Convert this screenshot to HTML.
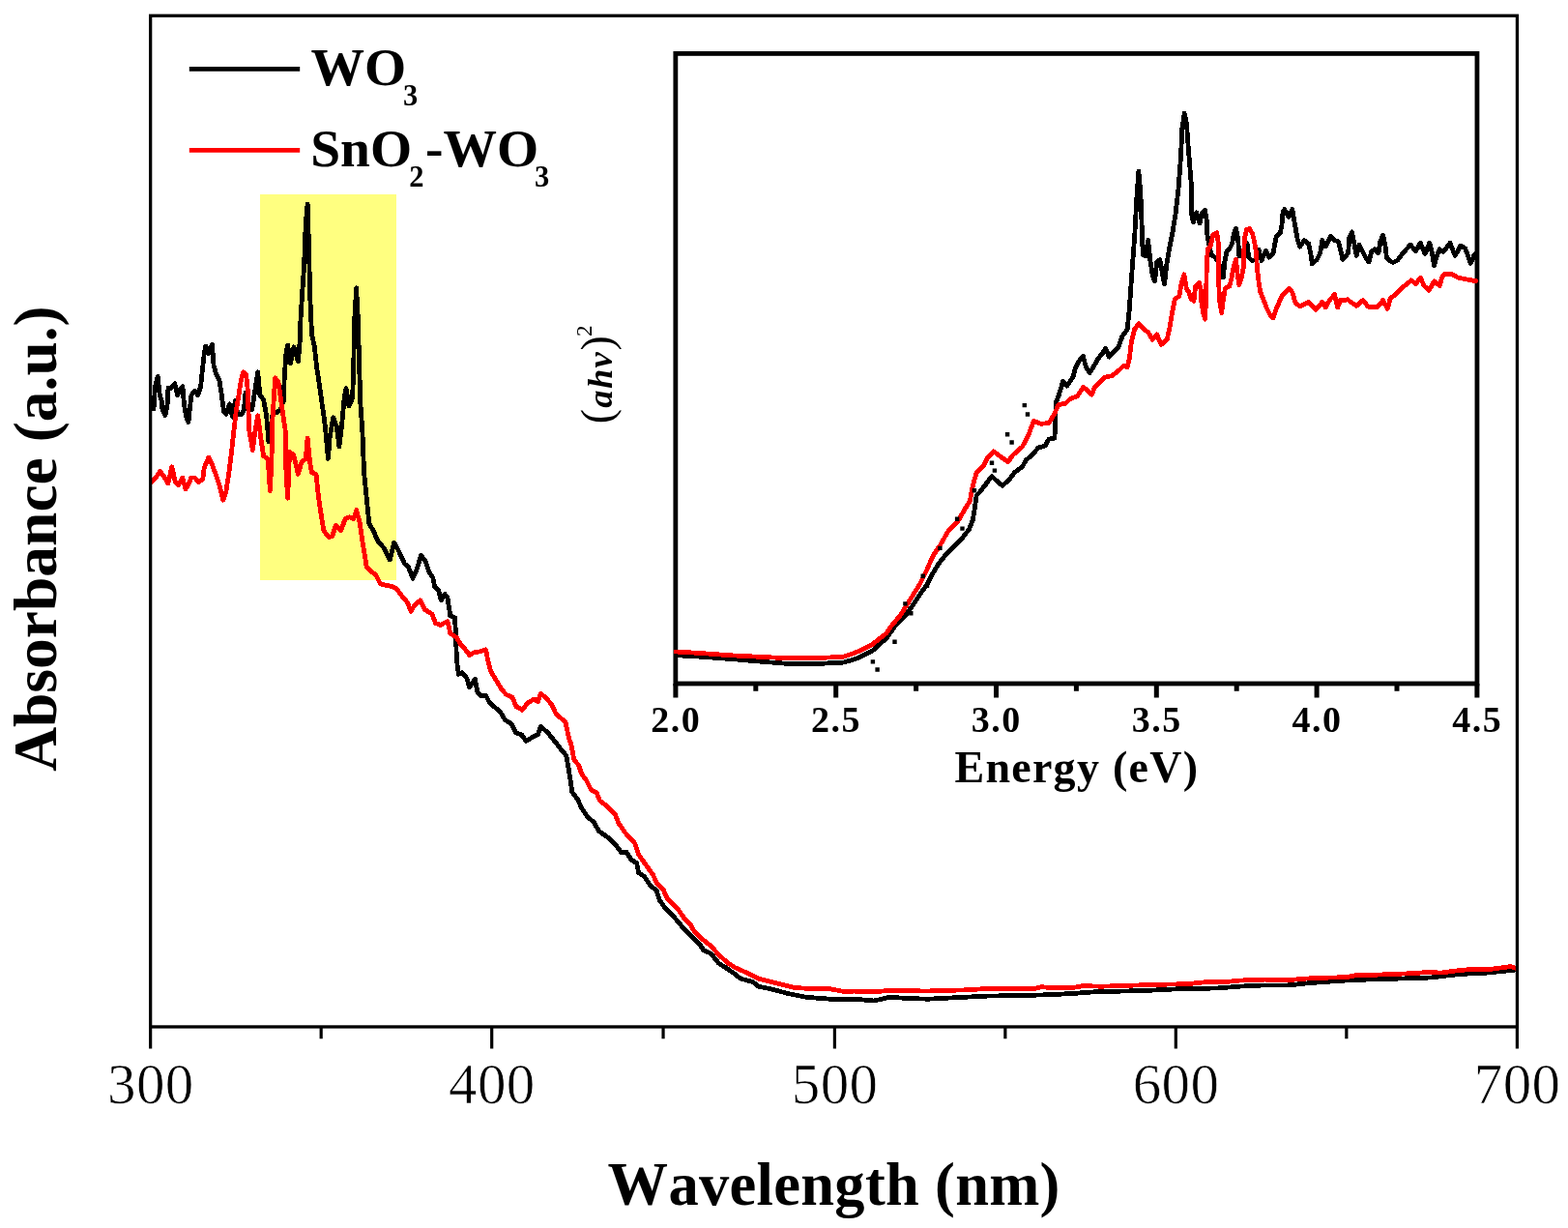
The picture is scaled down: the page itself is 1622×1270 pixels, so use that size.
<!DOCTYPE html><html><head><meta charset="utf-8"><style>html,body{margin:0;padding:0;background:#fff;overflow:hidden}svg{display:block;font-kerning:none}text{font-kerning:none}</style></head><body>
<svg width="1622" height="1270" viewBox="0 0 1622 1270">
<rect width="1622" height="1270" fill="#fff"/>
<rect x="269" y="201" width="141" height="399" fill="#FFFF80"/>
<polyline points="156.7,417.8 159.0,423.0 160.5,399.8 163.2,389.4 165.0,407.0 167.2,414.8 168.0,423.8 171.0,429.7 173.2,417.8 174.0,401.3 177.0,401.3 180.7,396.8 183.7,408.8 185.9,402.8 188.9,399.8 190.4,417.8 192.6,431.2 194.9,436.5 197.9,408.8 201.6,404.3 204.6,408.8 207.6,399.8 209.1,384.9 211.3,365.4 212.8,358.0 215.8,365.4 219.5,356.5 221.0,377.4 223.3,386.4 227.0,393.8 229.3,408.8 231.5,425.3 233.8,428.2 237.5,417.8 240.5,431.2 243.5,414.0 245.7,428.2 249.5,429.0 252.4,423.8 254.0,405.8 256.0,420.0 260.7,423.8 263.7,404.3 266.7,384.9 268.9,408.8 272.6,413.3 275.6,429.7 277.9,456.7 280.1,443.2 282.0,428.0 286.1,426.7 290.0,424.0 293.3,414.7 294.2,390.0 296.0,365.0 297.7,357.1 300.4,375.8 303.9,358.9 308.4,374.0 310.1,354.5 311.0,329.7 312.8,301.3 314.6,274.7 316.3,230.4 318.1,211.0 319.3,248.2 320.8,308.4 322.5,345.6 325.2,358.0 327.8,381.0 330.5,398.8 333.2,418.3 334.5,426.6 336.7,444.3 339.4,474.4 341.1,453.2 344.7,431.9 348.2,440.8 350.9,462.0 353.5,440.8 356.2,410.6 358.0,401.8 361.0,420.0 364.5,412.0 365.5,390.0 366.8,329.7 368.6,297.8 370.4,329.7 372.0,390.0 373.0,420.0 374.8,444.3 376.6,488.6 379.2,515.2 381.9,541.8 386.3,548.9 390.8,559.5 397.0,566.6 403.2,579.0 407.6,561.3 411.0,567.0 414.7,574.6 418.5,583.1 422.3,585.9 427.0,598.2 430.8,589.7 435.5,574.6 440.2,580.2 444.0,591.6 447.8,597.3 449.7,606.7 453.5,610.5 456.3,620.9 460.1,614.3 462.9,618.1 465.8,637.0 470.5,638.8 471.4,654.0 472.4,682.3 474.3,697.4 478.1,695.6 482.8,701.2 485.6,710.7 491.3,702.2 494.1,716.4 497.9,720.1 502.6,719.2 506.4,726.7 513.0,732.4 518.7,738.1 522.5,744.7 529.1,748.5 533.8,757.9 539.5,759.8 544.2,766.4 551.8,761.7 556.5,759.8 559.3,751.3 566.9,757.9 574.5,767.4 580.0,774.8 585.9,781.6 588.9,799.4 591.8,819.0 597.7,826.9 601.6,835.8 607.6,844.6 614.4,850.5 619.4,859.4 629.2,866.3 637.1,874.2 643.0,882.0 647.9,881.0 652.8,888.9 658.7,892.8 660.7,902.7 666.6,906.6 672.5,915.5 679.4,921.4 682.3,931.2 688.2,939.1 696.1,947.0 706.0,958.8 715.8,968.6 723.7,976.5 727.6,982.4 735.5,986.3 743.4,996.2 751.2,1001.1 760.0,1007.3 766.2,1012.2 778.5,1015.3 784.7,1020.2 797.0,1022.7 815.5,1027.6 834.0,1031.3 858.6,1033.2 883.3,1033.2 904.3,1035.0 920.3,1031.3 938.8,1032.5 960.0,1033.2 984.7,1031.9 1021.7,1030.1 1058.6,1029.5 1083.3,1028.8 1108.0,1027.6 1132.6,1025.8 1160.0,1025.1 1184.7,1024.5 1221.7,1022.6 1258.6,1022.0 1283.3,1020.1 1308.0,1018.9 1332.6,1018.9 1357.3,1016.4 1400.0,1013.5 1450.0,1012.0 1480.0,1011.0 1510.0,1007.5 1540.0,1006.0 1568.0,1003.0" fill="none" stroke="#000" stroke-width="4.8" stroke-linejoin="round" stroke-linecap="round" shape-rendering="crispEdges"/>
<polyline points="156.7,498.5 161.2,494.0 165.7,487.3 169.4,492.6 173.9,500.0 177.7,482.8 181.4,498.5 184.4,501.5 188.9,494.0 191.9,506.0 194.9,501.5 197.9,494.0 201.6,494.0 205.3,498.5 209.8,495.5 211.3,483.6 215.8,473.1 218.8,479.1 223.3,491.1 227.0,501.5 230.8,517.2 233.8,509.0 236.7,489.6 239.7,465.6 242.0,444.7 244.2,425.3 247.2,407.3 249.5,392.3 251.7,384.9 254.7,387.9 256.2,402.8 257.7,444.7 261.4,465.6 263.7,447.7 266.7,429.7 269.7,452.2 272.6,471.6 277.1,474.6 279.4,507.5 281.0,474.6 281.8,435.4 283.5,408.9 284.6,390.9 288.0,395.0 290.6,414.2 295.1,444.3 296.0,490.4 297.7,515.2 299.5,467.3 303.9,470.9 308.4,490.4 311.9,478.0 316.3,474.4 318.1,453.2 320.8,479.7 322.5,488.6 327.0,490.4 329.6,515.2 332.3,532.9 334.9,548.9 340.3,555.9 343.8,554.2 347.3,543.5 352.7,548.9 357.1,536.5 361.5,534.7 365.9,536.5 368.6,527.6 372.1,540.0 375.7,564.8 379.2,586.1 384.6,591.4 389.0,594.9 393.4,603.8 400.5,605.6 405.8,606.5 410.2,609.1 415.7,616.2 421.3,622.8 425.1,632.2 428.9,625.6 434.6,620.9 439.3,630.3 446.9,635.1 450.6,644.5 455.4,646.4 462.9,642.6 465.8,654.9 472.4,659.6 477.1,667.2 480.9,671.0 485.6,677.6 490.3,674.8 497.0,673.8 502.6,671.9 504.5,682.3 507.4,693.7 513.0,703.1 518.7,712.6 523.4,718.2 530.0,721.1 533.8,730.5 540.4,734.3 546.1,726.7 552.7,723.0 556.5,725.8 559.3,717.3 565.0,722.0 570.7,728.6 574.5,737.1 579.2,741.9 584.9,746.6 588.6,763.6 590.8,769.8 593.8,785.6 598.7,791.5 601.6,800.3 606.6,807.2 611.5,817.1 617.4,820.0 620.3,827.9 628.2,833.8 636.1,841.7 640.0,851.5 646.9,861.4 656.8,872.2 660.7,884.0 667.6,893.8 675.5,904.7 679.4,913.5 686.3,920.4 690.2,929.3 702.0,941.1 707.9,949.9 714.8,956.8 717.8,962.7 725.6,970.6 735.5,978.5 743.4,987.3 753.2,996.2 760.0,1000.5 772.3,1006.0 784.7,1012.2 797.0,1015.3 809.3,1018.4 821.7,1021.4 840.1,1022.7 858.6,1022.7 871.0,1025.1 883.3,1025.1 901.8,1025.8 920.3,1024.5 938.8,1024.5 957.3,1025.1 972.3,1024.5 997.0,1023.9 1024.1,1022.3 1071.0,1022.3 1077.1,1020.6 1089.5,1021.8 1108.0,1021.8 1120.3,1019.6 1138.8,1020.2 1160.0,1019.5 1197.0,1018.3 1227.8,1017.7 1246.3,1015.8 1271.0,1015.2 1283.3,1014.0 1308.0,1013.1 1332.6,1013.6 1360.0,1011.4 1392.7,1010.7 1401.8,1008.8 1425.4,1008.1 1458.0,1006.8 1477.6,1005.5 1490.7,1006.1 1503.8,1004.2 1516.9,1002.9 1543.0,1002.2 1562.6,999.6 1568.0,1001.4" fill="none" stroke="#f00" stroke-width="4.8" stroke-linejoin="round" stroke-linecap="round" shape-rendering="crispEdges"/>
<rect x="155.65" y="16.25" width="1413.8" height="1045.7" fill="none" stroke="#000" stroke-width="3.3"/>
<path d="M155.65,1062.0V1084.6 M332.18,1062.0V1074.3 M508.70,1062.0V1084.6 M686.05,1062.0V1074.3 M863.40,1062.0V1084.6 M1039.85,1062.0V1074.3 M1216.30,1062.0V1084.6 M1392.85,1062.0V1074.3 M1569.40,1062.0V1084.6" stroke="#000" stroke-width="3.2" fill="none"/>
<g font-family="Liberation Serif, serif" font-size="59" letter-spacing="0.4" fill="#000" stroke="#fff" stroke-width="0.7">
<text x="111.00" y="1140.9">300</text>
<text x="464.05" y="1140.9">400</text>
<text x="818.75" y="1140.9">500</text>
<text x="1171.65" y="1140.9">600</text>
<text x="1524.75" y="1140.9">700</text>
</g>
<text x="628.6" y="1245.9" font-family="Liberation Serif, serif" font-weight="bold" font-size="62.5" letter-spacing="0.31">Wavelength (nm)</text>
<text transform="translate(58.3,797.8) rotate(-90)" font-family="Liberation Serif, serif" font-weight="bold" font-size="63.5">Absorbance (a.u.)</text>
<path d="M195.8,71.45H310.2" stroke="#000" stroke-width="4.7"/>
<path d="M195.8,155.4H310.2" stroke="#f00" stroke-width="4.9"/>
<g font-family="Liberation Serif, serif" font-weight="bold" font-size="55.5">
<text x="321.45" y="87.6">WO</text>
<text x="416.9" y="109.05" font-size="30.5">3</text>
<text x="321.2" y="171.7">SnO</text>
<text x="423.15" y="193.1" font-size="30.5">2</text>
<text x="440" y="171.7">-WO</text>
<text x="553.1" y="193.0" font-size="30.5">3</text>
</g>
<rect x="698.85" y="55.4" width="829.1" height="651.6" fill="none" stroke="#000" stroke-width="4.8"/>
<path d="M698.9,707.0V721.5 M781.8,707.0V714.7 M864.7,707.0V721.5 M947.6,707.0V714.7 M1030.5,707.0V721.5 M1113.4,707.0V714.7 M1196.3,707.0V721.5 M1279.2,707.0V714.7 M1362.1,707.0V721.5 M1445.0,707.0V714.7 M1527.9,707.0V721.5" stroke="#000" stroke-width="5" fill="none"/>
<g font-family="Liberation Serif, serif" font-weight="bold" font-size="38" letter-spacing="1.5">
<text x="673.25" y="757.2">2.0</text>
<text x="839.06" y="757.2">2.5</text>
<text x="1004.87" y="757.2">3.0</text>
<text x="1170.68" y="757.2">3.5</text>
<text x="1336.49" y="757.2">4.0</text>
<text x="1502.30" y="757.2">4.5</text>
</g>
<text x="987.45" y="809" font-family="Liberation Serif, serif" font-weight="bold" font-size="46" letter-spacing="1.27">Energy (eV)</text>
<g transform="translate(633.2,0) rotate(-90)" font-family="Liberation Serif, serif">
<text x="-438.2" y="0" font-size="46">(</text>
<text x="-421.7" y="0" font-size="36.5" font-weight="bold" font-style="italic" letter-spacing="1.35">ahv</text>
<text x="-362.45" y="0" font-size="46">)</text>
<text x="-348.1" y="-21.5" font-size="23.2">2</text>
</g>
<polyline points="699.4,677.7 724.6,679.2 754.2,681.4 783.8,683.9 813.4,686.3 843.0,686.6 872.6,685.1 887.4,680.7 902.2,673.3 917.0,660.0 925.6,648.0 935.4,638.1 945.3,624.4 953.1,612.6 959.0,604.7 964.9,592.9 970.9,583.0 978.7,573.2 986.6,565.3 994.5,557.5 1002.3,547.6 1006.3,537.8 1008.2,526.0 1010.2,512.2 1014.2,508.2 1020.1,500.4 1026.0,492.5 1029.9,496.4 1036.8,502.3 1043.7,496.4 1049.6,488.6 1057.5,482.7 1061.4,475.8 1067.3,470.9 1074.2,463.0 1081.1,461.0 1085.0,454.1 1090.9,453.1 1091.9,431.5 1092.0,417.1 1095.0,409.6 1099.5,394.6 1103.9,399.1 1109.9,390.1 1112.2,381.2 1115.9,373.7 1120.4,368.4 1123.4,379.7 1127.1,385.6 1130.9,379.7 1136.1,370.7 1139.9,366.2 1143.6,360.2 1147.3,369.2 1151.8,363.9 1157.1,358.7 1160.8,348.2 1166.1,340.7 1168.3,319.8 1169.8,297.3 1171.5,273.9 1173.8,243.2 1176.1,200.2 1177.9,177.2 1179.9,200.2 1181.5,243.2 1182.2,263.2 1185.3,264.7 1187.6,248.6 1189.9,269.3 1192.2,284.7 1194.5,290.8 1196.8,270.8 1199.9,268.5 1202.2,281.6 1204.5,293.9 1206.8,273.9 1209.9,255.5 1213.0,240.1 1216.0,221.7 1219.1,194.1 1221.4,163.4 1222.9,132.6 1225.2,117.3 1227.5,128.0 1229.1,151.1 1230.6,169.5 1232.2,189.5 1232.8,222.0 1234.4,229.8 1237.7,219.8 1241.0,230.9 1243.2,220.9 1246.5,217.6 1248.2,227.6 1248.7,241.9 1250.4,251.8 1253.2,263.9 1257.0,266.1 1259.8,270.6 1263.1,277.2 1265.3,287.1 1266.9,270.6 1269.1,259.5 1271.9,257.3 1274.6,251.8 1276.3,241.9 1278.5,236.4 1280.7,247.4 1281.8,265.0 1284.6,262.8 1287.3,259.5 1290.1,251.8 1291.7,266.1 1295.0,269.5 1298.9,268.4 1302.2,258.4 1305.0,269.5 1309.4,259.5 1312.7,266.1 1317.1,261.7 1319.3,249.6 1320.4,244.1 1324.3,240.8 1325.9,233.1 1327.0,219.8 1328.7,216.5 1333.1,224.3 1336.9,216.5 1339.1,229.8 1340.8,239.7 1342.4,248.5 1344.7,255.1 1349.1,248.5 1353.5,251.8 1355.7,261.7 1357.3,272.8 1362.3,268.4 1365.6,261.7 1367.8,248.5 1371.1,255.1 1376.6,244.1 1379.9,248.5 1384.3,249.6 1387.6,261.7 1388.7,268.4 1392.1,265.0 1394.7,261.6 1395.7,246.4 1398.5,239.8 1400.9,252.1 1403.2,264.4 1406.1,253.1 1408.9,258.7 1412.7,266.3 1416.0,271.0 1418.8,259.7 1422.1,257.8 1425.9,261.6 1427.8,250.2 1430.6,243.1 1433.0,254.0 1434.4,266.3 1438.2,270.1 1441.0,271.5 1445.7,269.1 1451.4,261.6 1459.0,253.1 1464.6,259.7 1469.3,251.2 1474.1,262.5 1478.8,251.2 1481.6,262.5 1483.5,274.8 1486.4,264.4 1489.2,257.8 1493.0,260.6 1496.7,255.9 1500.0,251.2 1505.2,264.4 1510.9,254.0 1515.6,256.8 1518.5,264.4 1521.3,272.4 1525.1,263.5 1527.0,262.0" fill="none" stroke="#000" stroke-width="4.8" stroke-linejoin="round" stroke-linecap="round" shape-rendering="crispEdges"/>
<polyline points="699.4,674.0 724.6,675.5 754.2,677.7 783.8,679.2 813.4,680.7 843.0,680.7 872.6,679.2 887.4,674.0 902.2,666.6 917.0,654.8 921.6,648.0 931.5,636.2 941.3,620.4 951.2,604.7 959.0,588.9 964.9,575.2 972.8,563.4 980.7,549.6 990.5,539.7 998.4,526.0 1003.3,518.1 1006.3,502.3 1010.2,488.6 1018.1,480.7 1022.0,472.8 1027.9,466.9 1035.8,472.8 1042.7,477.7 1047.6,470.9 1057.5,462.0 1063.4,451.2 1069.3,435.4 1077.1,438.4 1085.0,437.4 1090.9,427.6 1095.0,418.6 1102.4,417.1 1106.9,412.6 1114.4,409.6 1120.4,400.6 1124.9,403.6 1129.4,408.1 1132.4,400.6 1138.4,394.6 1142.9,390.1 1150.3,388.6 1156.3,384.1 1162.3,378.2 1166.1,379.7 1168.3,370.7 1170.5,352.7 1173.5,340.7 1178.0,334.8 1183.3,340.7 1187.8,343.7 1192.2,351.2 1196.7,346.0 1201.2,356.5 1207.2,351.2 1210.2,337.8 1212.4,324.3 1215.4,309.3 1219.9,306.3 1222.2,292.9 1224.9,283.9 1227.4,298.8 1229.7,301.8 1232.2,309.1 1235.0,311.3 1236.6,295.9 1240.5,292.6 1242.1,299.2 1242.7,311.3 1244.9,324.6 1246.5,330.1 1247.6,310.2 1248.2,277.2 1249.3,257.3 1252.0,255.1 1254.8,243.0 1258.7,240.8 1260.9,255.1 1260.3,281.6 1261.4,309.1 1263.6,323.5 1265.3,310.2 1267.5,298.1 1271.9,295.9 1274.1,287.1 1276.3,275.0 1278.5,268.4 1280.2,283.8 1281.8,294.8 1284.0,288.2 1286.2,277.2 1287.3,247.4 1289.5,237.5 1292.3,236.4 1295.6,241.9 1297.8,250.7 1299.5,261.7 1300.6,279.4 1302.2,292.6 1303.9,302.5 1307.2,310.2 1310.5,319.1 1313.8,325.7 1317.1,329.0 1320.4,319.1 1323.7,311.3 1327.0,304.7 1333.6,298.1 1336.9,302.5 1340.2,313.5 1344.7,316.9 1349.1,314.7 1353.5,312.4 1361.2,320.2 1367.8,312.4 1371.1,318.0 1375.5,310.2 1380.5,304.7 1383.8,318.0 1386.5,310.2 1390.0,310.7 1393.8,309.7 1397.6,312.6 1403.2,316.4 1409.8,310.7 1415.5,317.3 1425.0,317.3 1430.6,310.7 1435.3,319.2 1438.2,308.8 1442.9,305.0 1450.5,297.5 1459.9,289.9 1464.6,293.7 1469.3,287.1 1473.1,295.6 1478.3,300.3 1483.5,290.8 1489.2,295.6 1492.0,286.1 1494.9,283.3 1501.5,283.3 1508.1,287.1 1517.5,289.0 1525.1,290.4 1527.0,290.5" fill="none" stroke="#f00" stroke-width="4.8" stroke-linejoin="round" stroke-linecap="round" shape-rendering="crispEdges"/>
<path d="M900.7,682.2h4.4v4.4h-4.4z M905.4,690.3h4.4v4.4h-4.4z M923.3,661.5h4.4v4.4h-4.4z M934.2,622.2h4.4v4.4h-4.4z M940.1,632.0h4.4v4.4h-4.4z M952.5,593.6h4.4v4.4h-4.4z M956.8,603.5h4.4v4.4h-4.4z M970.2,564.7h4.4v4.4h-4.4z M987.9,534.6h4.4v4.4h-4.4z M993.3,544.4h4.4v4.4h-4.4z M1005.7,505.1h4.4v4.4h-4.4z M1023.8,476.5h4.4v4.4h-4.4z M1026.7,484.4h4.4v4.4h-4.4z M1039.9,447.0h4.4v4.4h-4.4z M1044.4,455.3h4.4v4.4h-4.4z M1057.6,416.9h4.4v4.4h-4.4z M1060.8,426.3h4.4v4.4h-4.4z" fill="#000"/>
</svg></body></html>
